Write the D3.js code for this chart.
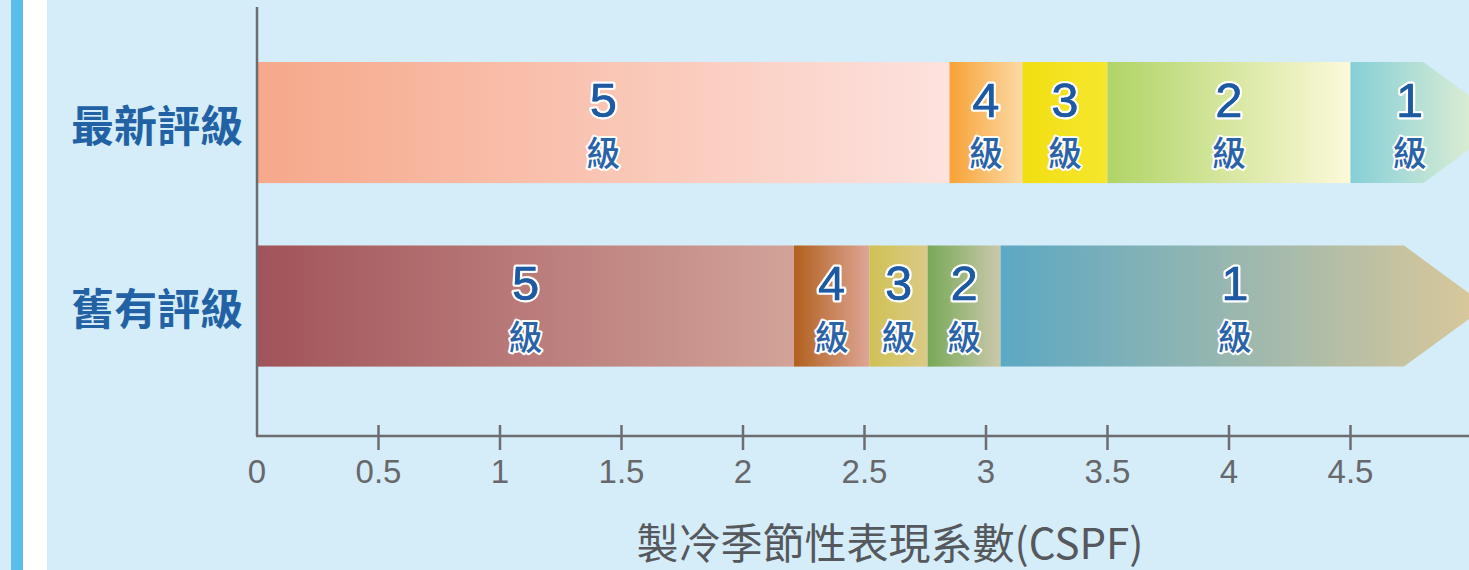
<!DOCTYPE html>
<html>
<head>
<meta charset="utf-8">
<script src="https://cdn.jsdelivr.net/npm/d3@7"></script>
<style>
  html, body { margin: 0; padding: 0; background: #d5ecf9; overflow: hidden; }
</style>
</head>
<body>
<svg id="chart"></svg>
<script>
// data
var categories = ["最新評級", "舊有評級"];
var grades = ["5", "4", "3", "2", "1"];
var newBreaks = [0, 2.85, 3.15, 3.5, 4.5, 4.8];   // last value = end of arrow body
var oldBreaks = [0, 2.21, 2.52, 2.76, 3.06, 4.72];
var arrowTips = [5.14, 5.06];
var tickValues = [0, 0.5, 1, 1.5, 2, 2.5, 3, 3.5, 4, 4.5];
var axisTitle = "製冷季節性表現系數(CSPF)";

// gradient colours, left -> right, per segment
var newColors = [["#f6a88a", "#fde2de"], ["#f7a236", "#fbdaa6"], ["#f1de12", "#f6e72e"], ["#b0d466", "#fdf9da"], ["#86cfd8", "#f3f5d2"]];
var oldColors = [["#a1535a", "#d2a399"], ["#b1601d", "#dea697"], ["#cfc155", "#dbca86"], ["#77a957", "#cbc8ac"], ["#5ca8c3", "#dcc899"]];

var svgWidth = 1469, svgHeight = 570;
var svg = d3.select("#chart").attr("width", svgWidth).attr("height", svgHeight);

svg.append("rect").attr("width", svgWidth).attr("height", svgHeight).attr("fill", "#d5ecf9");
// left page decoration
svg.append("rect").attr("x", 11).attr("y", 0).attr("width", 12).attr("height", svgHeight).attr("fill", "#5bbde9");
svg.append("rect").attr("x", 23).attr("y", 0).attr("width", 24).attr("height", svgHeight).attr("fill", "#ffffff");

var x = d3.scaleLinear().domain([0, 5]).range([257, 1472]);
var y = d3.scaleBand().domain(categories).range([62, 366.6]).paddingInner(0.34).paddingOuter(0);

var defs = svg.append("defs");
var rows = [
  { name: categories[0], breaks: newBreaks, colors: newColors, tip: arrowTips[0] },
  { name: categories[1], breaks: oldBreaks, colors: oldColors, tip: arrowTips[1] }
];

var g = svg.append("g");

rows.forEach(function (row, ri) {
  var y0 = y(row.name), y1 = y0 + y.bandwidth(), yc = y0 + y.bandwidth() / 2;
  var segs = grades.map(function (gr, i) {
    return { grade: gr, from: row.breaks[i], to: row.breaks[i + 1], colors: row.colors[i], last: i === grades.length - 1 };
  });

  segs.forEach(function (s, i) {
    var id = "grad" + ri + "_" + i;
    var lg = defs.append("linearGradient").attr("id", id).attr("x1", 0).attr("x2", 1).attr("y1", 0).attr("y2", 0);
    lg.append("stop").attr("offset", "0%").attr("stop-color", s.colors[0]);
    lg.append("stop").attr("offset", "100%").attr("stop-color", s.colors[1]);

    if (s.last) {
      var pts = [[x(s.from), y0], [x(s.to), y0], [x(row.tip), yc], [x(s.to), y1], [x(s.from), y1]];
      g.append("path").attr("d", d3.line()(pts) + "Z").attr("fill", "url(#" + id + ")");
    } else {
      g.append("rect")
        .attr("x", x(s.from)).attr("y", y0)
        .attr("width", x(s.to) - x(s.from)).attr("height", y.bandwidth())
        .attr("fill", "url(#" + id + ")");
    }

    var right = s.last ? Math.min(x(row.tip), svgWidth) : x(s.to);
    var cx = (x(s.from) + right) / 2;

    // grade number with white halo
    g.append("text").attr("x", cx).attr("y", yc - 6)
      .attr("text-anchor", "middle")
      .style("font-family", "'Liberation Sans', Arial, sans-serif")
      .style("font-size", "49px")
      .attr("fill", "#1d5aa3").attr("stroke", "#ffffff").attr("stroke-width", 5)
      .attr("stroke-linejoin", "round").style("paint-order", "stroke")
      .text(s.grade);
    g.append("text").attr("x", cx).attr("y", yc - 6)
      .attr("text-anchor", "middle")
      .style("font-family", "'Liberation Sans', Arial, sans-serif")
      .style("font-size", "49px")
      .attr("fill", "#1d5aa3").attr("stroke", "#1d5aa3").attr("stroke-width", 0.4)
      .text(s.grade);

    g.append("text").attr("x", cx).attr("y", yc + 29)
      .attr("text-anchor", "middle").attr("dominant-baseline", "central")
      .style("font-family", "'Noto Sans CJK TC', sans-serif")
      .style("font-size", "34px").style("font-weight", "500")
      .attr("fill", "#2a63a8").attr("stroke", "#ffffff").attr("stroke-width", 4)
      .attr("stroke-linejoin", "round").style("paint-order", "stroke")
      .text("級");
  });
});

// category labels
svg.selectAll(".cat").data(categories).enter().append("text")
  .attr("class", "cat")
  .attr("x", 243)
  .attr("y", function (d) { return y(d) + y.bandwidth() / 2; })
  .attr("text-anchor", "end").attr("dominant-baseline", "central")
  .style("font-family", "'Noto Sans CJK TC', sans-serif")
  .style("font-size", "43px").style("font-weight", "bold")
  .attr("fill", "#2262a4")
  .text(function (d) { return d; });

// axes
var axisColor = "#6d6d70";
svg.append("line").attr("x1", x(0)).attr("x2", x(0)).attr("y1", 7).attr("y2", 436)
  .attr("stroke", axisColor).attr("stroke-width", 2.5);
svg.append("line").attr("x1", x(0) - 1).attr("x2", svgWidth).attr("y1", 436).attr("y2", 436)
  .attr("stroke", axisColor).attr("stroke-width", 2.5);

svg.selectAll(".tick").data(tickValues.filter(function (d) { return d > 0; })).enter().append("line")
  .attr("class", "tick")
  .attr("x1", function (d) { return x(d); }).attr("x2", function (d) { return x(d); })
  .attr("y1", 425).attr("y2", 450)
  .attr("stroke", axisColor).attr("stroke-width", 2.5);

svg.selectAll(".tl").data(tickValues).enter().append("text")
  .attr("class", "tl")
  .attr("x", function (d) { return x(d); })
  .attr("y", 483)
  .attr("text-anchor", "middle")
  .style("font-family", "'Liberation Sans', Arial, sans-serif")
  .style("font-size", "33px")
  .attr("fill", "#67686b")
  .text(function (d) { return d; });

svg.append("text")
  .attr("x", 890).attr("y", 540)
  .attr("text-anchor", "middle").attr("dominant-baseline", "central")
  .style("font-family", "'Noto Sans CJK TC', sans-serif")
  .style("font-size", "42px")
  .attr("fill", "#55585c")
  .text(axisTitle);
</script>
</body>
</html>
